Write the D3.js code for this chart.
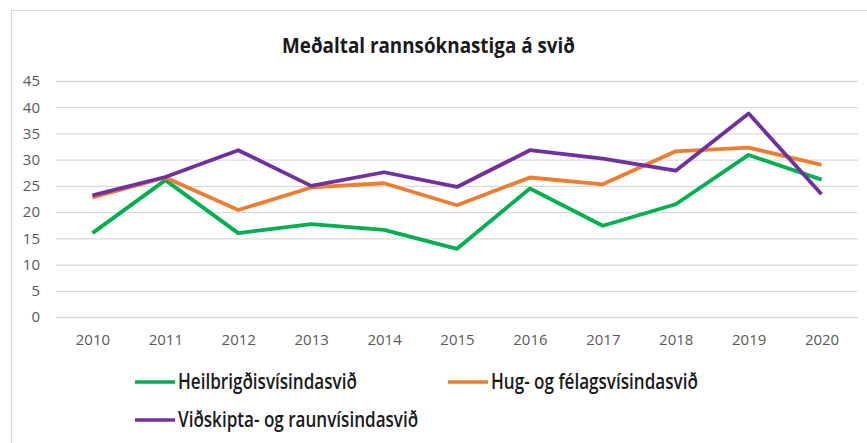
<!DOCTYPE html>
<html>
<head>
<meta charset="utf-8">
<script src="https://cdn.jsdelivr.net/npm/d3@7"></script>
<style>
  html, body { margin: 0; padding: 0; background: #fff; }
  svg { display: block; }
</style>
</head>
<body>
<svg id="chart"></svg>
<script>
// data
const years = ['2010', '2011', '2012', '2013', '2014', '2015', '2016', '2017', '2018', '2019', '2020'];
const heilbrigdis = [16.0, 26.1, 16.0, 17.7, 16.6, 13.0, 24.5, 17.4, 21.5, 30.9, 26.2];
const hugFelags = [22.8, 26.6, 20.4, 24.7, 25.5, 21.3, 26.6, 25.3, 31.6, 32.3, 29.0];
const vidskipta = [23.2, 26.7, 31.8, 25.0, 27.6, 24.8, 31.8, 30.2, 27.9, 38.8, 23.4];
const yTicks = [0, 5, 10, 15, 20, 25, 30, 35, 40, 45];

const series = [
  { name: 'Heilbrigðisvísindasvið', values: heilbrigdis, color: '#00b050' },
  { name: 'Hug- og félagsvísindasvið', values: hugFelags, color: '#ed7d31' },
  { name: 'Viðskipta- og raunvísindasvið', values: vidskipta, color: '#7030a0' }
];

const width = 867;
const height = 443;
const margin = { top: 81, right: 9, bottom: 126, left: 56 };
const chartWidth = width - margin.left - margin.right;
const chartHeight = height - margin.top - margin.bottom;
const font = '"Open Sans", "DejaVu Sans", sans-serif';

const svg = d3.select('#chart')
  .attr('width', width)
  .attr('height', height);

// outer chart frame
svg.append('rect')
  .attr('x', 11.5)
  .attr('y', 10.5)
  .attr('width', width + 20)
  .attr('height', height + 20)
  .attr('fill', '#fff')
  .attr('stroke', '#d9d9d9');

// the original uses a condensed face, so squeeze the text horizontally
function squeeze(sel, targetWidth) {
  const w = sel.node().getComputedTextLength();
  return w > 0 ? targetWidth / w : 1;
}

const title = svg.append('text')
  .attr('text-anchor', 'middle')
  .attr('font-family', font)
  .attr('font-weight', 'bold')
  .attr('font-size', '22px')
  .attr('fill', '#1a1a1a')
  .text('Meðaltal rannsóknastiga á svið');
title.attr('transform', `translate(428.5,53) scale(${squeeze(title, 293)},1)`);

const g = svg.append('g')
  .attr('transform', `translate(${margin.left},${margin.top})`);

const xScale = d3.scalePoint()
  .domain(years)
  .range([0, chartWidth])
  .padding(0.5);

const yScale = d3.scaleLinear()
  .domain([0, 45])
  .range([chartHeight, 0]);

// gridlines
g.append('g')
  .call(d3.axisLeft(yScale).tickValues(yTicks).tickSize(-chartWidth).tickFormat(''))
  .call(ax => ax.select('.domain').remove())
  .call(ax => ax.selectAll('line').attr('stroke', '#d9d9d9').attr('stroke-width', 1.3));

// y axis labels
g.append('g')
  .call(d3.axisLeft(yScale).tickValues(yTicks).tickSize(0).tickPadding(16))
  .call(ax => ax.select('.domain').remove())
  .call(ax => ax.selectAll('text')
    .attr('fill', '#595959')
    .attr('font-family', font)
    .attr('font-size', '15px'));

// x axis labels
g.append('g')
  .attr('transform', `translate(0,${chartHeight})`)
  .call(d3.axisBottom(xScale).tickSize(0).tickPadding(17))
  .call(ax => ax.select('.domain').remove())
  .call(ax => ax.selectAll('text')
    .attr('fill', '#595959')
    .attr('font-family', font)
    .attr('font-size', '15px'));

const line = d3.line()
  .x((d, i) => xScale(years[i]))
  .y(d => yScale(d));

g.selectAll('.series')
  .data(series)
  .enter()
  .append('path')
  .attr('class', 'series')
  .attr('d', d => line(d.values))
  .attr('fill', 'none')
  .attr('stroke', d => d.color)
  .attr('stroke-width', 3.8)
  .attr('stroke-linejoin', 'round');

// legend
const legendPos = [[135, 382], [448, 382], [135, 420]];
const legend = svg.selectAll('.legend')
  .data(series)
  .enter()
  .append('g')
  .attr('class', 'legend')
  .attr('transform', (d, i) => `translate(${legendPos[i][0]},${legendPos[i][1]})`);

legend.append('line')
  .attr('x1', 0)
  .attr('x2', 40)
  .attr('stroke', d => d.color)
  .attr('stroke-width', 3.5);

const legendText = legend.append('text')
  .attr('font-family', font)
  .attr('font-weight', 600)
  .attr('font-size', '21.5px')
  .attr('fill', '#1a1a1a')
  .text(d => d.name);
const sx = squeeze(legendText.filter((d, i) => i === 0), 179);
legendText.attr('transform', `translate(43,7) scale(${sx},1)`);
</script>
</body>
</html>
